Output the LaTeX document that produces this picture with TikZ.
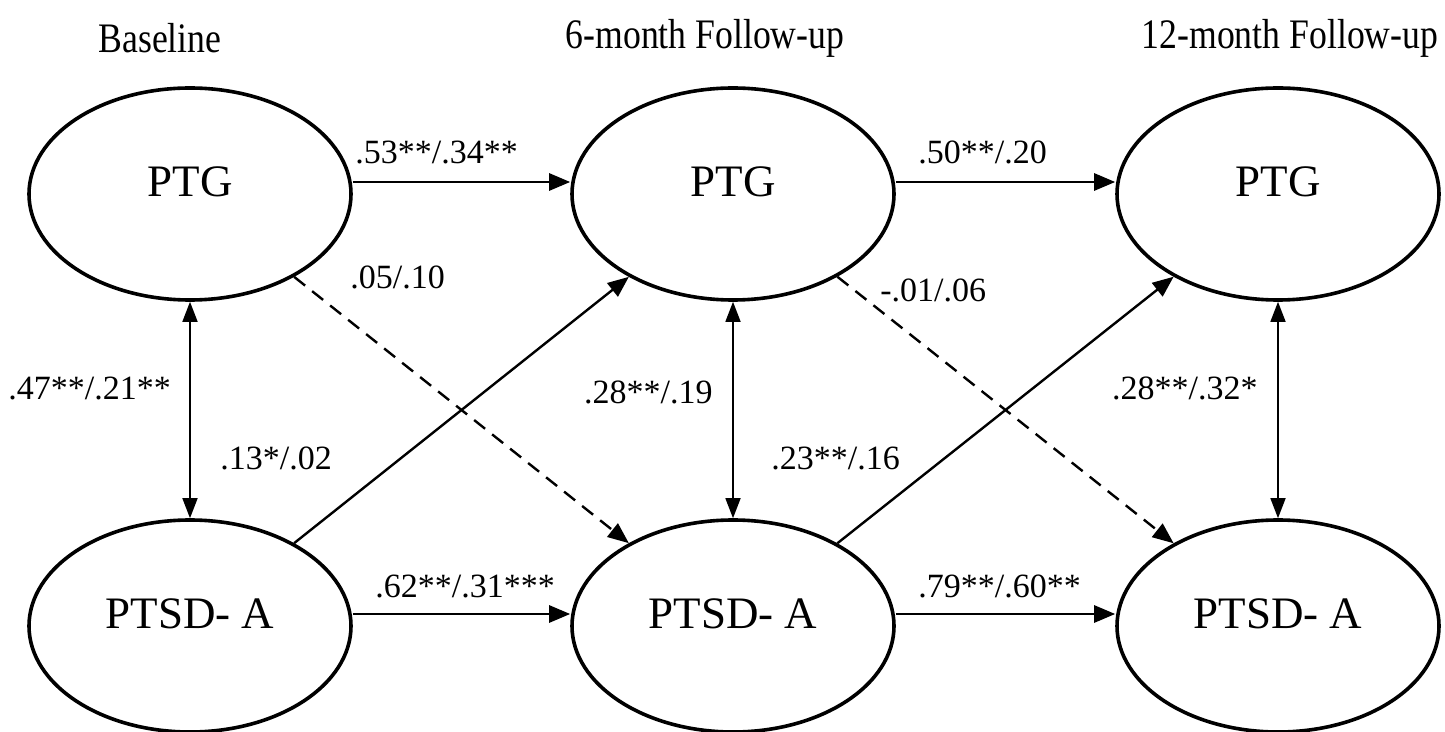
\documentclass[tikz,border=0pt]{standalone}
\usepackage{fontspec}
\setmainfont{Liberation Serif}
\usetikzlibrary{shapes.geometric,arrows.meta}
\begin{document}
\begin{tikzpicture}[x=0.5pt,y=-0.5pt,
  latent/.style={ellipse,draw,line width=1.8pt,minimum width=161pt,minimum height=106pt,inner sep=0pt},
  ltext/.style={font=\fontsize{22.5}{27}\selectfont,inner sep=0pt,yshift=6pt},
  lbl/.style={font=\fontsize{17}{20}\selectfont,inner sep=0pt},
  hdr/.style={font=\fontsize{21}{25}\selectfont,inner sep=0pt},
  hline/.style={line width=1.4pt,-{Triangle[length=10.5pt,width=8.5pt]}},
  diag/.style={line width=1.2pt,-{Triangle[length=10.5pt,width=8.5pt]}},
  dashline/.style={diag,dash pattern=on 7pt off 4.5pt},
  vline/.style={line width=0.8pt,{Triangle[length=10pt,width=7.5pt]}-{Triangle[length=10pt,width=7.5pt]}}
]
\useasboundingbox (0,0) rectangle (1445,732);

% headers
\node[hdr] (h1) at (160,38) {\scalebox{0.85}[1]{Baseline}};
\node[hdr] (h2) at (705,38) {\scalebox{0.85}[1]{6-month Follow-up}};
\node[hdr] (h3) at (1290,38) {\scalebox{0.85}[1]{12-month Follow-up}};

% latent variables
\node[latent, label={[ltext]center:PTG}] (TL) at (190,194) {};
\node[latent, label={[ltext]center:PTG}] (TM) at (733,194) {};
\node[latent, label={[ltext]center:PTG}] (TR) at (1278,194) {};
\node[latent, label={[ltext]center:PTSD- A}] (BL) at (190,626) {};
\node[latent, label={[ltext]center:PTSD- A}] (BM) at (733,626) {};
\node[latent, label={[ltext]center:PTSD- A}] (BR) at (1278,626) {};

% horizontal paths
\draw[hline] ([yshift=6pt]TL.east) -- ([yshift=6pt]TM.west);
\draw[hline] ([yshift=6pt]TM.east) -- ([yshift=6pt]TR.west);
\draw[hline] ([yshift=6pt]BL.east) -- ([yshift=6pt]BM.west);
\draw[hline] ([yshift=6pt]BM.east) -- ([yshift=6pt]BR.west);

% cross-lagged paths
\draw[diag] (BL) -- (TM);
\draw[diag] (BM) -- (TR);
\draw[dashline] (TL) -- (BM);
\draw[dashline] (TM) -- (BR);

% correlations
\draw[vline] (TL) -- (BL);
\draw[vline] (TM) -- (BM);
\draw[vline] (TR) -- (BR);

% labels
\node[lbl, anchor=west] (l53) at (355,152) {.53**/.34**};
\node[lbl, anchor=west] (l50) at (918,152) {.50**/.20};
\node[lbl, anchor=west] (l62) at (375,586) {.62**/.31***};
\node[lbl, anchor=west] (l79) at (918,586) {.79**/.60**};
\node[lbl, anchor=west] (l47) at (8,388) {.47**/.21**};
\node[lbl, anchor=west] (l13) at (220,458) {.13*/.02};
\node[lbl, anchor=west] (l05) at (350,277) {.05/.10};
\node[lbl, anchor=west] (l01) at (880,290) {-.01/.06};
\node[lbl, anchor=east] (l28a) at (713,392) {.28**/.19};
\node[lbl, anchor=west] (l23) at (771,458) {.23**/.16};
\node[lbl, anchor=east] (l28b) at (1258,388) {.28**/.32*};
\end{tikzpicture}
\end{document}
